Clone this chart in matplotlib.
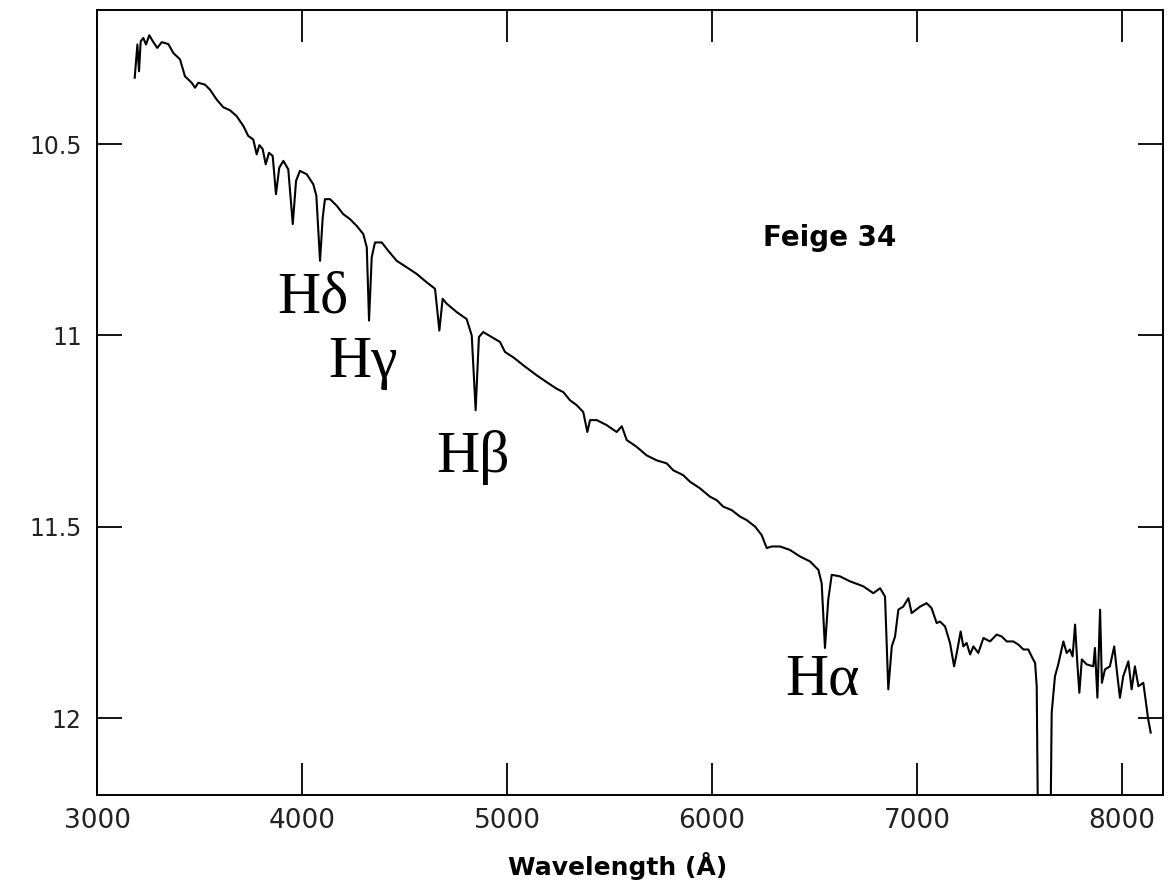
import matplotlib
matplotlib.use("Agg")
import matplotlib.pyplot as plt
from matplotlib import font_manager

# Spectrum of Feige 34: wavelength (Angstrom) and magnitude
wavelength = [
    3184, 3197, 3205, 3213, 3226, 3239, 3255, 3275, 3294, 3316, 3348, 3372, 3405, 3429,
    3462, 3478, 3494, 3527, 3551, 3584, 3616, 3649, 3681, 3714, 3738, 3762, 3779, 3792,
    3808, 3823, 3839, 3857, 3873, 3889, 3909, 3933, 3955, 3971, 3990, 4023, 4055, 4070,
    4088, 4101, 4112, 4137, 4169, 4201, 4234, 4267, 4299, 4316, 4327, 4340, 4356, 4389,
    4421, 4462, 4511, 4559, 4608, 4649, 4670, 4686, 4706, 4755, 4803, 4828, 4847, 4863,
    4884, 4925, 4966, 4990, 5031, 5080, 5145, 5194, 5242, 5275, 5307, 5340, 5372, 5392,
    5405, 5438, 5486, 5535, 5560, 5584, 5633, 5681, 5730, 5779, 5811, 5860, 5893, 5941,
    5990, 6023, 6055, 6096, 6137, 6169, 6210, 6242, 6267, 6291, 6332, 6380, 6429, 6478,
    6519, 6535, 6551, 6567, 6584, 6624, 6673, 6738, 6787, 6820, 6844, 6860, 6877, 6893,
    6909, 6933, 6958, 6974, 7015, 7047, 7071, 7096, 7112, 7137, 7161, 7181, 7194, 7213,
    7226, 7242, 7259, 7275, 7299, 7324, 7356, 7389, 7413, 7438, 7470, 7494, 7519, 7543,
    7559, 7576, 7584, 7592, 7649, 7657, 7673, 7689, 7714, 7730, 7746, 7759, 7771, 7782,
    7792, 7804, 7828, 7860, 7868, 7880, 7893, 7902, 7917, 7941, 7962, 7974, 7990, 8006,
    8031, 8047, 8063, 8080, 8104, 8117, 8128, 8140,
]
magnitude = [
    10.327, 10.240, 10.310, 10.232, 10.223, 10.240, 10.216, 10.234, 10.249, 10.234, 10.239, 10.262, 10.279, 10.323,
    10.340, 10.353, 10.340, 10.345, 10.358, 10.384, 10.404, 10.412, 10.427, 10.453, 10.479, 10.488, 10.527, 10.503,
    10.513, 10.553, 10.523, 10.531, 10.631, 10.562, 10.544, 10.566, 10.709, 10.596, 10.570, 10.579, 10.605, 10.635,
    10.805, 10.692, 10.644, 10.644, 10.661, 10.683, 10.696, 10.714, 10.735, 10.770, 10.961, 10.796, 10.757, 10.757,
    10.779, 10.805, 10.822, 10.839, 10.861, 10.878, 10.987, 10.904, 10.917, 10.939, 10.957, 11.000, 11.195, 11.004,
    10.991, 11.004, 11.017, 11.043, 11.057, 11.078, 11.104, 11.122, 11.139, 11.148, 11.169, 11.182, 11.200, 11.252,
    11.221, 11.221, 11.234, 11.252, 11.237, 11.273, 11.291, 11.313, 11.326, 11.334, 11.352, 11.365, 11.382, 11.399,
    11.421, 11.430, 11.447, 11.456, 11.473, 11.482, 11.499, 11.521, 11.555, 11.551, 11.551, 11.560, 11.577, 11.590,
    11.612, 11.647, 11.816, 11.690, 11.625, 11.629, 11.642, 11.655, 11.673, 11.660, 11.682, 11.924, 11.812, 11.786,
    11.716, 11.708, 11.686, 11.725, 11.708, 11.699, 11.712, 11.751, 11.747, 11.760, 11.803, 11.864, 11.829, 11.773,
    11.812, 11.803, 11.833, 11.812, 11.829, 11.790, 11.799, 11.781, 11.786, 11.799, 11.799, 11.807, 11.820, 11.820,
    11.838, 11.855, 11.916, 12.400, 12.400, 11.985, 11.890, 11.859, 11.799, 11.829, 11.820, 11.838, 11.755, 11.855,
    11.933, 11.846, 11.859, 11.864, 11.816, 11.946, 11.716, 11.907, 11.872, 11.864, 11.812, 11.872, 11.946, 11.890,
    11.851, 11.924, 11.864, 11.916, 11.907, 11.959, 12.003, 12.037,
]

x_ticks = [3000, 4000, 5000, 6000, 7000, 8000]
y_ticks = [10.5, 11, 11.5, 12]
y_tick_labels = ["10.5", "11", "11.5", "12"]

line_labels = ["Hδ", "Hγ", "Hβ", "Hα"]
line_label_x = [3877, 4128, 4654, 6356]
line_label_y = [10.939, 11.109, 11.357, 11.9375]

star_name = "Feige 34"

installed = {f.name for f in font_manager.fontManager.ttflist}
if "Liberation Sans Narrow" in installed:
    xtick_family, xtick_size = "Liberation Sans Narrow", 25
else:
    xtick_family, xtick_size = "DejaVu Sans", 19

fig = plt.figure(figsize=(11.71, 8.84), dpi=100)
ax = fig.add_axes([97 / 1171, 1 - 795 / 884, (1163 - 97) / 1171, (795 - 10) / 884])

ax.plot(wavelength, magnitude, color="black", lw=1.5, solid_joinstyle="round")

ax.set_xlim(3000, 8200)
ax.set_ylim(12.2, 10.15)

ax.set_xticks(x_ticks)
ax.set_xticklabels([str(v) for v in x_ticks], fontsize=xtick_size, family=xtick_family, color="#222222")
ax.set_yticks(y_ticks)
ax.set_yticklabels(y_tick_labels, fontsize=17, family="DejaVu Sans", color="#222222")
ax.minorticks_off()

ax.tick_params(axis="x", direction="in", length=23, width=1.3, top=True, bottom=True, pad=9)
ax.tick_params(axis="y", direction="in", length=18, width=1.3, left=True, right=True, pad=11)
for sp in ax.spines.values():
    sp.set_linewidth(1.4)

ax.set_xlabel("Wavelength (Å)", fontsize=18, fontweight="bold", family="DejaVu Sans")
ax.xaxis.set_label_coords((618 - 97) / 1066, -0.072)

for lab, lx, ly in zip(line_labels, line_label_x, line_label_y):
    ax.text(lx, ly, lab, fontsize=43, family="Liberation Serif", ha="left", va="baseline")

ax.text(6249, 10.766, star_name, fontsize=20, fontweight="bold", family="DejaVu Sans",
        ha="left", va="baseline")

fig.savefig("out.png", dpi=100)
